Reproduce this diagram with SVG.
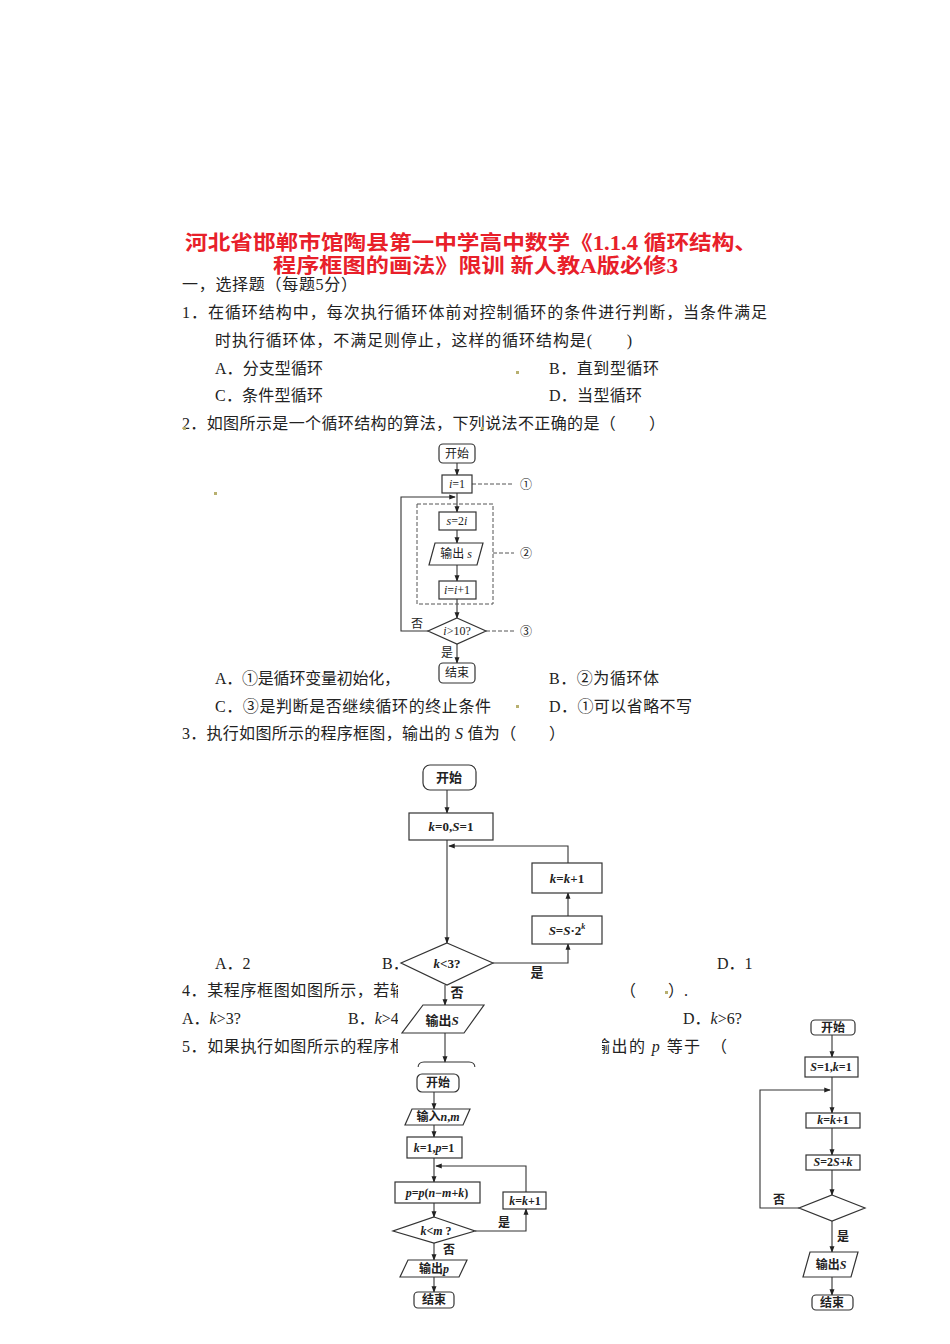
<svg xmlns="http://www.w3.org/2000/svg" width="950" height="1344" viewBox="0 0 950 1344">
<defs>
<marker id="ar" viewBox="0 0 8 8" refX="7" refY="4" markerWidth="6" markerHeight="6" orient="auto"><path d="M0,1 L8,4 L0,7 z" fill="#222"/></marker>
<style>
.t{font-family:"Liberation Serif","Noto Sans CJK SC",serif;font-size:16px;fill:#222}
.h{font-family:"Liberation Serif","Noto Sans CJK SC",serif;font-size:20px;font-weight:bold;fill:#e8202a}
.n{fill:#fff;stroke:#333;stroke-width:1.2}
.f{font-family:"Liberation Serif","Noto Sans CJK SC",serif;font-size:12px;fill:#222;text-anchor:middle}
.g{font-family:"Liberation Serif","Noto Sans CJK SC",serif;font-size:13px;font-weight:bold;fill:#222;text-anchor:middle}
.l{fill:none;stroke:#333;stroke-width:1.1}
.d{fill:none;stroke:#555;stroke-width:1;stroke-dasharray:4,2}
.dot{fill:#b8b070}
</style>
</defs>
<rect width="950" height="1344" fill="#fff"/>
<g id="text">
<text class="h" x="185" y="250" textLength="572" lengthAdjust="spacingAndGlyphs">河北省邯郸市馆陶县第一中学高中数学《1.1.4 循环结构、</text>
<text class="h" x="273" y="273" textLength="405" lengthAdjust="spacingAndGlyphs">程序框图的画法》限训 新人教A版必修3</text>
<text class="t" x="182" y="290" textLength="175">一，选择题（每题5分）</text>
<text class="t" x="182" y="318" textLength="585">1．在循环结构中，每次执行循环体前对控制循环的条件进行判断，当条件满足</text>
<text class="t" x="215" y="346" textLength="417">时执行循环体，不满足则停止，这样的循环结构是(　　)</text>
<text class="t" x="215" y="374" textLength="108">A．分支型循环</text>
<text class="t" x="549" y="374" textLength="110">B．直到型循环</text>
<text class="t" x="215" y="401" textLength="108">C．条件型循环</text>
<text class="t" x="549" y="401" textLength="93">D．当型循环</text>
<text class="t" x="182" y="429" textLength="483">2．如图所示是一个循环结构的算法，下列说法不正确的是（　　）</text>
<text class="t" x="215" y="684" textLength="185">A．①是循环变量初始化，</text>
<text class="t" x="549" y="684" textLength="110">B．②为循环体</text>
<text class="t" x="215" y="712" textLength="276">C．③是判断是否继续循环的终止条件</text>
<text class="t" x="549" y="712" textLength="143">D．①可以省略不写</text>
<text class="t" x="182" y="739" textLength="383">3．执行如图所示的程序框图，输出的 <tspan font-style="italic">S</tspan> 值为（　　）</text>
<text class="t" x="215" y="969">A．2</text>
<text class="t" x="382" y="969">B．</text>
<text class="t" x="717" y="969">D．1</text>
<text class="t" x="182" y="996" textLength="224">4．某程序框图如图所示，若输</text>
<text class="t" x="620" y="996">（　　）.</text>
<text class="t" x="182" y="1024">A．<tspan font-style="italic">k</tspan>&gt;3?</text>
<text class="t" x="348" y="1024">B．<tspan font-style="italic">k</tspan>&gt;4</text>
<text class="t" x="683" y="1024">D．<tspan font-style="italic">k</tspan>&gt;6?</text>
<text class="t" x="182" y="1052" textLength="224">5．如果执行如图所示的程序框</text>
<text class="t" x="594" y="1052" textLength="133">输出的 <tspan font-style="italic">p</tspan> 等于　（</text>
<rect class="dot" x="516" y="371" width="3" height="3"/>
<rect class="dot" x="214" y="492" width="3" height="3"/>
<rect class="dot" x="516" y="705" width="3" height="3"/>
<rect class="dot" x="183" y="427" width="3" height="3"/>
<rect class="dot" x="481" y="427" width="3" height="3"/>
<rect class="dot" x="665" y="991" width="3" height="3"/>
</g>
<g id="fc2">
<g id="fc2-connectors">
<line class="l" x1="457" y1="463" x2="457" y2="475" marker-end="url(#ar)"/>
<line class="l" x1="457" y1="493" x2="457" y2="512" marker-end="url(#ar)"/>
<line class="l" x1="457" y1="530" x2="457" y2="543" marker-end="url(#ar)"/>
<line class="l" x1="457" y1="565" x2="457" y2="581" marker-end="url(#ar)"/>
<line class="l" x1="457" y1="599" x2="457" y2="618" marker-end="url(#ar)"/>
<line class="l" x1="457" y1="644" x2="457" y2="663" marker-end="url(#ar)"/>
<polyline class="l" points="428,631 401,631 401,497 455,497" marker-end="url(#ar)"/>
<line class="d" x1="472" y1="484" x2="514" y2="484"/>
<line class="d" x1="493" y1="553" x2="514" y2="553"/>
<line class="d" x1="486" y1="631" x2="514" y2="631"/>
<rect class="d" x="417" y="504" width="76" height="100"/>
</g>
<g id="n2-start"><rect class="n" x="439" y="444" width="36" height="19" rx="4"/><text class="f" x="457" y="458">开始</text></g>
<g id="n2-i1"><rect class="n" x="442" y="475" width="30" height="18"/><text class="f" x="457" y="488"><tspan font-style="italic">i</tspan>=1</text></g>
<g id="n2-s"><rect class="n" x="439" y="512" width="37" height="18"/><text class="f" x="457" y="525"><tspan font-style="italic">s</tspan>=2<tspan font-style="italic">i</tspan></text></g>
<g id="n2-out"><polygon class="n" points="435,543 483,543 477,565 429,565"/><text class="f" x="456" y="558">输出 <tspan font-style="italic">s</tspan></text></g>
<g id="n2-inc"><rect class="n" x="439" y="581" width="37" height="18"/><text class="f" x="457" y="594"><tspan font-style="italic">i</tspan>=<tspan font-style="italic">i</tspan>+1</text></g>
<g id="n2-dec"><polygon class="n" points="457,618 486,631 457,644 428,631"/><text class="f" x="457" y="635"><tspan font-style="italic">i</tspan>&gt;10?</text></g>
<g id="n2-end"><rect class="n" x="439" y="663" width="36" height="20" rx="4"/><text class="f" x="457" y="677">结束</text></g>
<text class="f" x="417" y="628">否</text>
<text class="f" x="447" y="657">是</text>
<text class="f" x="526" y="489" font-size="14">①</text>
<text class="f" x="526" y="558" font-size="14">②</text>
<text class="f" x="526" y="636" font-size="14">③</text>
</g>
<rect x="398" y="945" width="204" height="118" fill="#fff"/>
<g id="fc3">
<g id="fc3-connectors">
<line class="l" x1="447" y1="790" x2="447" y2="813" marker-end="url(#ar)"/>
<line class="l" x1="447" y1="840" x2="447" y2="943" marker-end="url(#ar)"/>
<polyline class="l" points="493,963 568,963 568,944" marker-end="url(#ar)"/>
<line class="l" x1="568" y1="916" x2="568" y2="893" marker-end="url(#ar)"/>
<polyline class="l" points="568,863 568,846 449,846" marker-end="url(#ar)"/>
<line class="l" x1="445" y1="985" x2="445" y2="1005" marker-end="url(#ar)"/>
<line class="l" x1="445" y1="1033" x2="445" y2="1062" marker-end="url(#ar)"/>
</g>
<g id="n3-start"><rect class="n" x="423" y="765" width="53" height="25" rx="7"/><text class="g" x="449" y="782">开始</text></g>
<g id="n3-init"><rect class="n" x="409" y="813" width="84" height="27"/><text class="g" x="451" y="831"><tspan font-style="italic">k</tspan>=0,<tspan font-style="italic">S</tspan>=1</text></g>
<g id="n3-inc"><rect class="n" x="532" y="863" width="70" height="30"/><text class="g" x="567" y="883"><tspan font-style="italic">k</tspan>=<tspan font-style="italic">k</tspan>+1</text></g>
<g id="n3-mul"><rect class="n" x="532" y="916" width="70" height="28"/><text class="g" x="567" y="935"><tspan font-style="italic">S</tspan>=<tspan font-style="italic">S</tspan>·2<tspan font-size="8" dy="-6" font-style="italic">k</tspan></text></g>
<g id="n3-dec"><polygon class="n" points="447,943 493,963 447,985 401,963"/><text class="g" x="447" y="968"><tspan font-style="italic">k</tspan>&lt;3?</text></g>
<g id="n3-out"><polygon class="n" points="423,1005 484,1005 464,1033 402,1033"/><text class="g" x="442" y="1025">输出<tspan font-style="italic">S</tspan></text></g>
<g id="n3-end"><path class="l" d="M418,1068 Q418,1062 424,1062 L469,1062 Q475,1062 475,1068"/></g>
<text class="g" x="537" y="977" font-weight="normal">是</text>
<text class="g" x="457" y="997" font-weight="normal">否</text>
</g>
<rect x="388" y="1067" width="165" height="250" fill="#fff"/>
<g id="fc4">
<g id="fc4-connectors">
<line class="l" x1="434" y1="1092" x2="434" y2="1109" marker-end="url(#ar)"/>
<line class="l" x1="434" y1="1125" x2="434" y2="1137" marker-end="url(#ar)"/>
<line class="l" x1="434" y1="1158" x2="434" y2="1182" marker-end="url(#ar)"/>
<line class="l" x1="434" y1="1203" x2="434" y2="1217" marker-end="url(#ar)"/>
<line class="l" x1="434" y1="1243" x2="434" y2="1260" marker-end="url(#ar)"/>
<line class="l" x1="434" y1="1277" x2="434" y2="1292" marker-end="url(#ar)"/>
<polyline class="l" points="475,1231 526,1231 526,1209" marker-end="url(#ar)"/>
<polyline class="l" points="526,1192 526,1166 436,1166" marker-end="url(#ar)"/>
</g>
<g id="n4-start"><rect class="n" x="417" y="1074" width="42" height="18" rx="5"/><text class="f" x="438" y="1087" font-weight="bold">开始</text></g>
<g id="n4-in"><polygon class="n" points="412,1109 470,1109 463,1125 405,1125"/><text class="f" x="438" y="1121" font-weight="bold">输入<tspan font-style="italic">n</tspan>,<tspan font-style="italic">m</tspan></text></g>
<g id="n4-init"><rect class="n" x="407" y="1137" width="55" height="21"/><text class="f" x="434" y="1152" font-weight="bold"><tspan font-style="italic">k</tspan>=1,<tspan font-style="italic">p</tspan>=1</text></g>
<g id="n4-p"><rect class="n" x="395" y="1182" width="85" height="21"/><text class="f" x="437" y="1197" font-weight="bold"><tspan font-style="italic">p</tspan>=<tspan font-style="italic">p</tspan>(<tspan font-style="italic">n</tspan>−<tspan font-style="italic">m</tspan>+<tspan font-style="italic">k</tspan>)</text></g>
<g id="n4-inc"><rect class="n" x="503" y="1192" width="43" height="17"/><text class="f" x="525" y="1205" font-weight="bold"><tspan font-style="italic">k</tspan>=<tspan font-style="italic">k</tspan>+1</text></g>
<g id="n4-dec"><polygon class="n" points="434,1217 475,1231 434,1243 393,1231"/><text class="f" x="436" y="1235" font-weight="bold"><tspan font-style="italic">k</tspan>&lt;<tspan font-style="italic">m</tspan> ?</text></g>
<g id="n4-out"><polygon class="n" points="408,1260 467,1260 459,1277 400,1277"/><text class="f" x="434" y="1273" font-weight="bold">输出<tspan font-style="italic">p</tspan></text></g>
<g id="n4-end"><rect class="n" x="414" y="1292" width="40" height="16" rx="4"/><text class="f" x="434" y="1304" font-weight="bold">结束</text></g>
<text class="f" x="504" y="1227" font-weight="bold">是</text>
<text class="f" x="449" y="1254" font-weight="bold">否</text>
</g>
<g id="fc5">
<g id="fc5-connectors">
<line class="l" x1="832" y1="1035" x2="832" y2="1057" marker-end="url(#ar)"/>
<line class="l" x1="832" y1="1077" x2="832" y2="1113" marker-end="url(#ar)"/>
<line class="l" x1="832" y1="1128" x2="832" y2="1155" marker-end="url(#ar)"/>
<line class="l" x1="832" y1="1170" x2="832" y2="1195" marker-end="url(#ar)"/>
<line class="l" x1="832" y1="1221" x2="832" y2="1252" marker-end="url(#ar)"/>
<line class="l" x1="832" y1="1277" x2="832" y2="1295" marker-end="url(#ar)"/>
<polyline class="l" points="799,1208 760,1208 760,1090 830,1090" marker-end="url(#ar)"/>
</g>
<g id="n5-start"><rect class="n" x="811" y="1020" width="44" height="15" rx="4"/><text class="f" x="833" y="1032" font-weight="bold">开始</text></g>
<g id="n5-init"><rect class="n" x="805" y="1057" width="53" height="20"/><text class="f" x="831" y="1071" font-weight="bold"><tspan font-style="italic">S</tspan>=1,<tspan font-style="italic">k</tspan>=1</text></g>
<g id="n5-inc"><rect class="n" x="806" y="1113" width="54" height="15"/><text class="f" x="833" y="1124" font-weight="bold"><tspan font-style="italic">k</tspan>=<tspan font-style="italic">k</tspan>+1</text></g>
<g id="n5-s"><rect class="n" x="806" y="1155" width="54" height="15"/><text class="f" x="833" y="1166" font-weight="bold"><tspan font-style="italic">S</tspan>=2<tspan font-style="italic">S</tspan>+<tspan font-style="italic">k</tspan></text></g>
<g id="n5-dec"><polygon class="n" points="832,1195 865,1208 832,1221 799,1208"/></g>
<g id="n5-out"><polygon class="n" points="810,1252 858,1252 851,1277 803,1277"/><text class="f" x="831" y="1269" font-weight="bold">输出<tspan font-style="italic">S</tspan></text></g>
<g id="n5-end"><rect class="n" x="812" y="1295" width="41" height="15" rx="4"/><text class="f" x="832" y="1307" font-weight="bold">结束</text></g>
<text class="f" x="779" y="1204" font-weight="bold">否</text>
<text class="f" x="843" y="1241" font-weight="bold">是</text>
</g>
</svg>
